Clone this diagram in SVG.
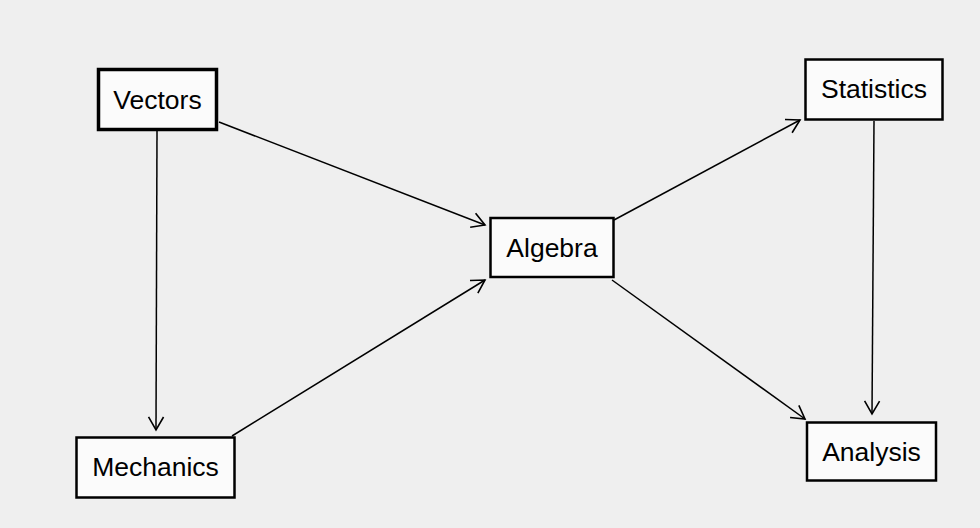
<svg xmlns="http://www.w3.org/2000/svg" width="980" height="528" viewBox="0 0 980 528">
<defs>
<style>
.node rect{fill:#fbfbfb;stroke:#000;stroke-width:2.5}
.node text{font-family:"Liberation Sans",Arial,Helvetica,sans-serif;font-size:26.5px;fill:#000;text-anchor:middle}
.edges line{stroke:#000;stroke-width:1.5;marker-end:url(#arr)}
</style>
<marker id="arr" markerUnits="userSpaceOnUse" markerWidth="30" markerHeight="30" viewBox="-15 -15 30 30" refX="0" refY="0" orient="auto">
<path d="M-13,-7.5 L0,0 L-13,7.5" fill="none" stroke="#000" stroke-width="1.6"/>
</marker>
</defs>
<rect width="980" height="528" fill="#efefef"/>
<g class="edges">
<line x1="157" y1="131" x2="156" y2="430"/>
<line x1="219" y1="122" x2="485" y2="225"/>
<line x1="232" y1="436" x2="485" y2="280"/>
<line x1="614" y1="220" x2="800" y2="120"/>
<line x1="612" y1="280" x2="805" y2="419"/>
<line x1="874" y1="121" x2="872" y2="414"/>
</g>
<g class="node" id="vectors"><rect x="98.5" y="69.5" width="118" height="60" style="stroke-width:3.5"/><text x="157.5" y="108.5">Vectors</text></g>
<g class="node" id="mechanics"><rect x="76.5" y="437.5" width="158" height="60"/><text x="155.5" y="475.5">Mechanics</text></g>
<g class="node" id="algebra"><rect x="490.5" y="218" width="123" height="59"/><text x="552" y="256.5">Algebra</text></g>
<g class="node" id="statistics"><rect x="805.5" y="59.5" width="137" height="60"/><text x="874" y="97.5">Statistics</text></g>
<g class="node" id="analysis"><rect x="807" y="422.5" width="129" height="58"/><text x="871.5" y="460.5">Analysis</text></g>
</svg>
